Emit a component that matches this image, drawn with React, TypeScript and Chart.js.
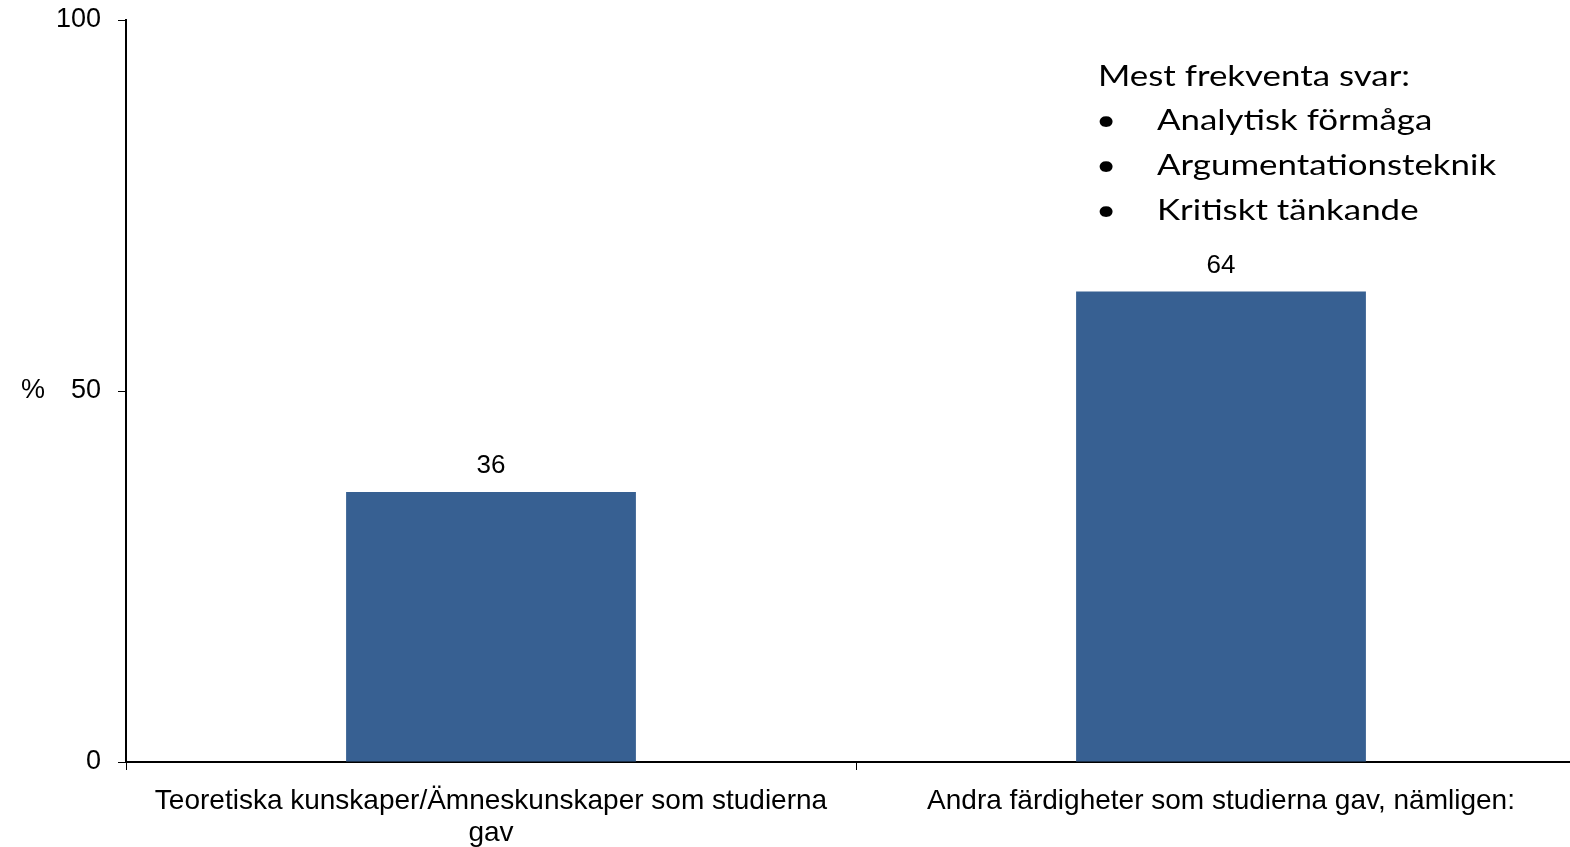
import React, { useEffect, useRef } from "react";
import { Chart, registerables } from "chart.js";

Chart.register(...registerables);

const categories: (string | string[])[] = [
  ["Teoretiska kunskaper/Ämneskunskaper som studierna", "gav"],
  "Andra färdigheter som studierna gav, nämligen:",
];
const values = [36.4, 63.4];
const valueLabels = ["36", "64"];
const yTickValues = [0, 50, 100];
const yAxisTitle = "%";
const noteTitle = "Mest frekventa svar:";
const noteItems = ["Analytisk förmåga", "Argumentationsteknik", "Kritiskt tänkande"];

const BAR_COLOR = "#376092";
const NUM_FONT = "'Liberation Sans', Arial, sans-serif";
const NOTE_FONT = "Lato, 'Open Sans', sans-serif";

const overlayPlugin = {
  id: "overlay",
  afterDatasetsDraw(chart: any) {
    const ctx = chart.ctx;
    const meta = chart.getDatasetMeta(0);
    const yScale = chart.scales.y;
    ctx.save();
    ctx.fillStyle = "#000";
    ctx.font = `26px ${NUM_FONT}`;
    ctx.textAlign = "center";
    ctx.textBaseline = "middle";
    meta.data.forEach((bar: any, i: number) => {
      ctx.fillText(valueLabels[i], bar.x, bar.y - 26);
    });
    // % axis title
    ctx.font = `27px ${NUM_FONT}`;
    ctx.fillText(yAxisTitle, 33, yScale.getPixelForValue(50));
    // note (horizontally widened like the reference)
    const sx = 1.245;
    ctx.font = `28px ${NOTE_FONT}`;
    ctx.textAlign = "left";
    ctx.textBaseline = "alphabetic";
    const drawWide = (t: string, x: number, y: number) => {
      ctx.save();
      ctx.translate(x, y);
      ctx.scale(sx, 1);
      ctx.fillText(t, 0, 0);
      ctx.restore();
    };
    drawWide(noteTitle, 1098, 86);
    const lineYs = [130, 175, 220];
    noteItems.forEach((t, i) => {
      drawWide("•", 1096, lineYs[i]);
      drawWide(t, 1157, lineYs[i]);
    });
    ctx.restore();
  },
};

export default function App() {
  const ref = useRef<HTMLCanvasElement>(null);
  useEffect(() => {
    if (!ref.current) return;
    const chart = new Chart(ref.current, {
      type: "bar",
      data: {
        labels: categories,
        datasets: [
          {
            data: values,
            backgroundColor: BAR_COLOR,
            borderWidth: 0,
            categoryPercentage: 1,
            barPercentage: 0.397,
          },
        ],
      },
      options: {
        animation: false,
        responsive: false,
        devicePixelRatio: 1,
        layout: { padding: { top: 0, right: 14, left: 0, bottom: 0 } },
        plugins: { legend: { display: false }, tooltip: { enabled: false } },
        scales: {
          x: {
            grid: {
              display: true,
              drawOnChartArea: false,
              drawTicks: true,
              tickLength: 8,
              color: "#000",
              lineWidth: 1,
              offset: true,
            },
            border: { color: "#000", width: 2 },
            ticks: {
              color: "#000",
              font: { family: NUM_FONT, size: 28, lineHeight: 1.15 },
              padding: 15,
              maxRotation: 0,
              autoSkip: false,
            },
            afterFit: (s: any) => {
              s.height = 85;
            },
          },
          y: {
            min: 0,
            max: 100,
            afterBuildTicks: (s: any) => {
              s.ticks = yTickValues.map((v) => ({ value: v }));
            },
            grid: {
              drawOnChartArea: false,
              drawTicks: true,
              tickLength: 8,
              color: "#000",
              lineWidth: 1,
            },
            border: { color: "#000", width: 2 },
            ticks: {
              color: "#000",
              font: { family: NUM_FONT, size: 27 },
              padding: 17,
            },
            afterFit: (s: any) => {
              s.width = 126;
              s.paddingTop = 20;
              s.paddingBottom = 0;
            },
          },
        },
      },
      plugins: [overlayPlugin],
    });
    return () => chart.destroy();
  }, []);
  return (
    <div
      style={{
        position: "fixed",
        left: 0,
        top: 0,
        width: 1570,
        height: 847,
        overflow: "hidden",
        background: "#fff",
      }}
    >
      <canvas ref={ref} width={1600} height={847} style={{ display: "block" }} />
    </div>
  );
}
